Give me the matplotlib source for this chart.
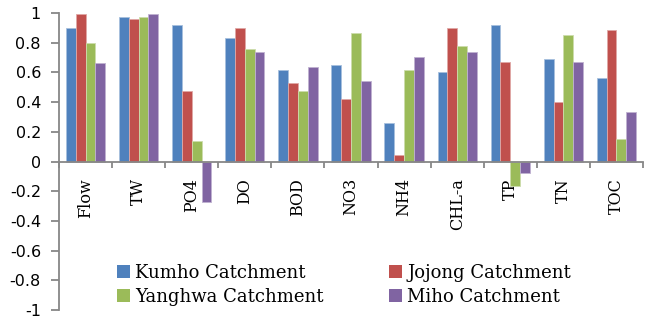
import matplotlib
matplotlib.use("Agg")
import matplotlib.pyplot as plt
import numpy as np

categories = ["Flow", "TW", "PO4", "DO", "BOD", "NO3", "NH4", "CHL-a", "TP", "TN", "TOC"]

kumho = [0.90, 0.975, 0.92, 0.83, 0.615, 0.65, 0.26, 0.60, 0.92, 0.69, 0.565]
jojong = [0.99, 0.96, 0.475, 0.90, 0.53, 0.42, 0.045, 0.90, 0.67, 0.40, 0.885]
yanghwa = [0.795, 0.975, 0.135, 0.76, 0.475, 0.865, 0.615, 0.78, -0.165, 0.85, 0.15]
miho = [0.665, 0.99, -0.275, 0.74, 0.635, 0.545, 0.705, 0.74, -0.08, 0.67, 0.33]

series = [
    ("Kumho Catchment", kumho, "#4F81BD", "#a7c0de"),
    ("Jojong Catchment", jojong, "#C0504D", "#e0a8a6"),
    ("Yanghwa Catchment", yanghwa, "#9BBB59", "#cdddac"),
    ("Miho Catchment", miho, "#8064A2", "#bfb1d0"),
]

serif = "DejaVu Serif"
axis_gray = "#878787"

fig = plt.figure(figsize=(6.47, 3.2), dpi=100)
ax = fig.add_axes([59 / 647, 1 - 310 / 320, 584 / 647, 297 / 320])

x = np.arange(len(categories))
width = 0.185
bars = []
for i, (name, vals, color, edge) in enumerate(series):
    b = ax.bar(x + (i - 1.5) * width, vals, width, color=color, edgecolor=edge,
               linewidth=0.6, label=name, zorder=2)
    bars.append(b)

ax.set_xlim(-0.5, len(categories) - 0.5)
ax.set_ylim(-1, 1)

# axis line through zero, with ticks between categories
for s in ["top", "right"]:
    ax.spines[s].set_visible(False)
ax.spines["bottom"].set_position(("data", 0))
ax.spines["bottom"].set_color(axis_gray)
ax.spines["left"].set_color(axis_gray)
ax.spines["bottom"].set_linewidth(1.3)
ax.spines["left"].set_linewidth(1.3)
ax.spines["bottom"].set_zorder(3)

ax.set_xticks(np.arange(len(categories) + 1) - 0.5)
ax.set_xticklabels([])
ax.tick_params(axis="x", which="major", direction="out", length=4, width=1.3, color=axis_gray)
ax.set_xticks(x, minor=True)
ax.set_xticklabels(categories, minor=True, rotation=90, va="top", ha="center",
                   family=serif, fontsize=11.5)
ax.tick_params(axis="x", which="minor", length=0, pad=12)

yticks = np.round(np.arange(-1, 1.01, 0.2), 1)
ax.set_yticks(yticks)
ylabels = ["0" if v == 0 else f"{v:g}" for v in yticks]
ax.set_yticklabels(ylabels, family="DejaVu Sans", fontsize=11.5)
ax.tick_params(axis="y", direction="out", length=6, width=1.3, color=axis_gray, pad=7)

# legend filled row by row: Kumho, Jojong / Yanghwa, Miho
order = [0, 2, 1, 3]
leg = ax.legend([bars[k] for k in order], [series[k][0] for k in order],
                loc="upper left", bbox_to_anchor=(117 / 647, 1 - 264 / 320),
                bbox_transform=fig.transFigure, ncol=2, frameon=False,
                prop={"family": serif, "size": 13}, handlelength=0.72,
                handleheight=0.72, handletextpad=0.3, columnspacing=3.6,
                labelspacing=0.32, borderpad=0, borderaxespad=0)
for h in leg.legend_handles:
    h.set_linewidth(0)

fig.savefig("out.png", dpi=100)
